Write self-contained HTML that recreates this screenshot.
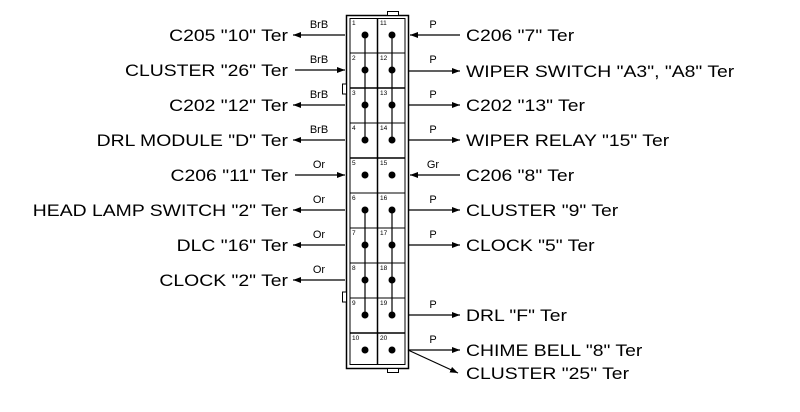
<!DOCTYPE html>
<html><head><meta charset="utf-8"><style>
html,body{margin:0;padding:0;background:#fff;}
svg{display:block;}
text{font-family:"Liberation Sans",Arial,sans-serif;fill:#000;}
.l{font-size:17px;}
.w{font-size:11px;}
</style></head><body>
<svg width="800" height="412" viewBox="0 0 800 412" xmlns="http://www.w3.org/2000/svg">
<defs>
<marker id="a" markerWidth="8" markerHeight="6" refX="8" refY="3" orient="auto" markerUnits="userSpaceOnUse">
<path d="M0,0 L8,3 L0,6 z" fill="#000"/></marker>
</defs>
<g fill="none" stroke="#000">
<rect x="346.5" y="15.5" width="62" height="353" stroke-width="1.5"/>
<rect x="350" y="18.5" width="55" height="346" stroke-width="1"/>
<rect x="387.5" y="11.5" width="11" height="4" fill="#fff"/>
<rect x="387.5" y="368.5" width="11" height="4" fill="#fff"/>
<rect x="342.5" y="84" width="4" height="10" fill="#fff"/>
<rect x="342.5" y="292" width="4" height="10" fill="#fff"/>
<line x1="377.5" y1="18" x2="377.5" y2="364" stroke-width="1.5"/>
<g stroke-width="1">
<line x1="350" y1="53" x2="405" y2="53"/>
<line x1="350" y1="88" x2="405" y2="88" stroke-width="1.5"/>
<line x1="350" y1="123" x2="405" y2="123"/>
<line x1="350" y1="158" x2="405" y2="158" stroke-width="1.5"/>
<line x1="350" y1="193" x2="405" y2="193"/>
<line x1="350" y1="228" x2="405" y2="228"/>
<line x1="350" y1="263" x2="405" y2="263"/>
<line x1="350" y1="298" x2="405" y2="298"/>
<line x1="350" y1="333" x2="405" y2="333" stroke-width="1.5"/>
</g>
<line x1="365" y1="35" x2="365" y2="140" stroke-width="1.2"/>
<line x1="392" y1="35" x2="392" y2="140" stroke-width="1.2"/>
<line x1="365" y1="210" x2="365" y2="315" stroke-width="1.2"/>
<line x1="392" y1="210" x2="392" y2="315" stroke-width="1.2"/>
</g>
<g fill="#000">
<circle cx="365" cy="35" r="3.5"/><circle cx="392" cy="35" r="3.5"/>
<circle cx="365" cy="70" r="3.5"/><circle cx="392" cy="70" r="3.5"/>
<circle cx="365" cy="105" r="3.5"/><circle cx="392" cy="105" r="3.5"/>
<circle cx="365" cy="140" r="3.5"/><circle cx="392" cy="140" r="3.5"/>
<circle cx="365" cy="175" r="3.5"/><circle cx="392" cy="175" r="3.5"/>
<circle cx="365" cy="210" r="3.5"/><circle cx="392" cy="210" r="3.5"/>
<circle cx="365" cy="245" r="3.5"/><circle cx="392" cy="245" r="3.5"/>
<circle cx="365" cy="280" r="3.5"/><circle cx="392" cy="280" r="3.5"/>
<circle cx="365" cy="315" r="3.5"/><circle cx="392" cy="315" r="3.5"/>
<circle cx="365" cy="350" r="3.5"/><circle cx="392" cy="350" r="3.5"/>
</g>
<g>
<text x="352" y="25" style="font-size:6.5px">1</text><text x="380" y="25" style="font-size:6.5px">11</text>
<text x="352" y="60" style="font-size:6.5px">2</text><text x="380" y="60" style="font-size:6.5px">12</text>
<text x="352" y="95" style="font-size:6.5px">3</text><text x="380" y="95" style="font-size:6.5px">13</text>
<text x="352" y="130" style="font-size:6.5px">4</text><text x="380" y="130" style="font-size:6.5px">14</text>
<text x="352" y="165" style="font-size:6.5px">5</text><text x="380" y="165" style="font-size:6.5px">15</text>
<text x="352" y="200" style="font-size:6.5px">6</text><text x="380" y="200" style="font-size:6.5px">16</text>
<text x="352" y="235" style="font-size:6.5px">7</text><text x="380" y="235" style="font-size:6.5px">17</text>
<text x="352" y="270" style="font-size:6.5px">8</text><text x="380" y="270" style="font-size:6.5px">18</text>
<text x="352" y="305" style="font-size:6.5px">9</text><text x="380" y="305" style="font-size:6.5px">19</text>
<text x="352" y="340" style="font-size:6.5px">10</text><text x="380" y="340" style="font-size:6.5px">20</text>
</g>
<g stroke="#000" stroke-width="1.2" marker-end="url(#a)">
<line x1="345" y1="35" x2="293" y2="35"/>
<line x1="295" y1="70" x2="345" y2="70"/>
<line x1="345" y1="105" x2="293" y2="105"/>
<line x1="345" y1="140" x2="293" y2="140"/>
<line x1="295" y1="175" x2="345" y2="175"/>
<line x1="345" y1="210" x2="293" y2="210"/>
<line x1="345" y1="245" x2="293" y2="245"/>
<line x1="345" y1="280" x2="293" y2="280"/>
<line x1="460" y1="35" x2="410" y2="35"/>
<line x1="408" y1="71" x2="460" y2="71"/>
<line x1="408" y1="105" x2="460" y2="105"/>
<line x1="408" y1="140" x2="460" y2="140"/>
<line x1="460" y1="175" x2="410" y2="175"/>
<line x1="408" y1="210" x2="460" y2="210"/>
<line x1="408" y1="245" x2="460" y2="245"/>
<line x1="408" y1="315" x2="460" y2="315"/>
<line x1="408" y1="350" x2="460" y2="350"/>
<line x1="408" y1="350" x2="458" y2="373"/>
</g>
<g text-anchor="middle">
<text class="w" x="319" y="28">BrB</text>
<text class="w" x="319" y="63">BrB</text>
<text class="w" x="319" y="98">BrB</text>
<text class="w" x="319" y="133">BrB</text>
<text class="w" x="319" y="168">Or</text>
<text class="w" x="319" y="203">Or</text>
<text class="w" x="319" y="238">Or</text>
<text class="w" x="319" y="273">Or</text>
<text class="w" x="433" y="28">P</text>
<text class="w" x="433" y="63">P</text>
<text class="w" x="433" y="98">P</text>
<text class="w" x="433" y="133">P</text>
<text class="w" x="433" y="168">Gr</text>
<text class="w" x="433" y="203">P</text>
<text class="w" x="433" y="238">P</text>
<text class="w" x="433" y="308">P</text>
<text class="w" x="433" y="343">P</text>
</g>
<g transform="translate(288,0) scale(1.14,1)" text-anchor="end">
<text class="l" x="0" y="41">C205 "10" Ter</text>
<text class="l" x="0" y="76">CLUSTER "26" Ter</text>
<text class="l" x="0" y="111">C202 "12" Ter</text>
<text class="l" x="0" y="146">DRL MODULE "D" Ter</text>
<text class="l" x="0" y="181">C206 "11" Ter</text>
<text class="l" x="0" y="216">HEAD LAMP SWITCH "2" Ter</text>
<text class="l" x="0" y="251">DLC "16" Ter</text>
<text class="l" x="0" y="286">CLOCK "2" Ter</text>
</g>
<g transform="translate(466,0) scale(1.14,1)">
<text class="l" x="0" y="41">C206 "7" Ter</text>
<text class="l" x="0" y="77">WIPER SWITCH "A3", "A8" Ter</text>
<text class="l" x="0" y="111">C202 "13" Ter</text>
<text class="l" x="0" y="146">WIPER RELAY "15" Ter</text>
<text class="l" x="0" y="181">C206 "8" Ter</text>
<text class="l" x="0" y="216">CLUSTER "9" Ter</text>
<text class="l" x="0" y="251">CLOCK "5" Ter</text>
<text class="l" x="0" y="321">DRL "F" Ter</text>
<text class="l" x="0" y="356">CHIME BELL "8" Ter</text>
<text class="l" x="0" y="379">CLUSTER "25" Ter</text>
</g>
</svg>
</body></html>
